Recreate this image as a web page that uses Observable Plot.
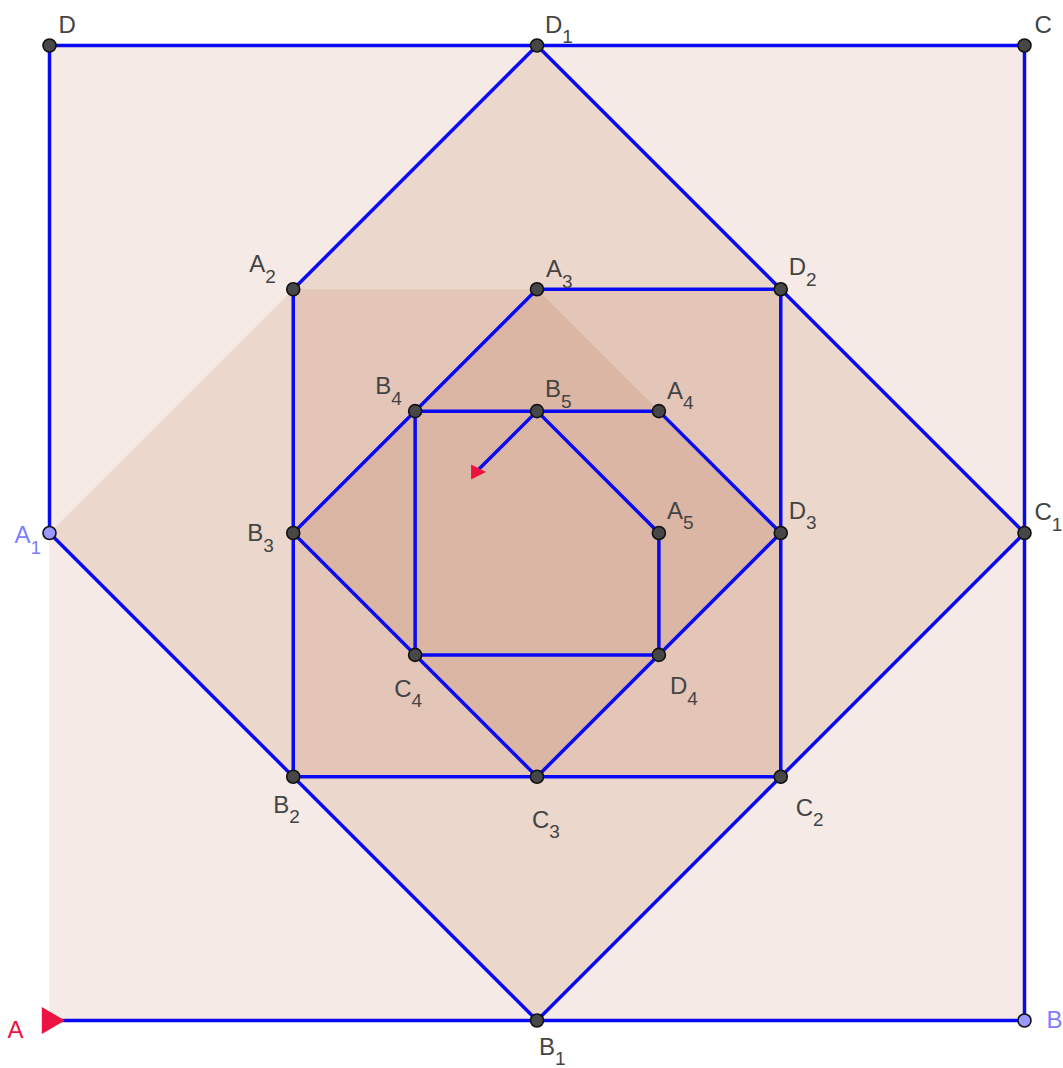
<!DOCTYPE html>
<html>
<head>
<meta charset="utf-8">
<script src="https://cdn.jsdelivr.net/npm/d3@7"></script>
<script src="https://cdn.jsdelivr.net/npm/@observablehq/plot@0.6"></script>
<style>
  html, body { margin: 0; padding: 0; background: #fff; }
  #chart svg { display: block; }
</style>
</head>
<body>
<div id="chart"></div>
<script>
// ---- Data: point names and geometric coordinates (square of side 8) ----
const pointNames = ["A","B","C","D","A1","B1","C1","D1","A2","B2","C2","D2","A3","B3","C3","D3","A4","B4","C4","D4","A5","B5"];
const pointX     = [0, 8, 8, 0, 0, 4, 8, 4, 2, 2, 6, 6, 4, 2, 4, 6, 5, 3, 3, 5, 5, 4];
const pointY     = [0, 0, 8, 8, 4, 0, 4, 8, 6, 2, 2, 6, 6, 4, 2, 4, 5, 5, 3, 3, 4, 5];
// spiral path order (ends with the half-step arrow tip)
const spiralOrder = ["A","B","C","D","A1","B1","C1","D1","A2","B2","C2","D2","A3","B3","C3","D3","A4","B4","C4","D4","A5","B5"];
const arrowTip = {x: 3.5, y: 4.5};
// shaded polygons
const filledPolygons = [
  ["A","B","C","D"],
  ["A1","B1","C1","D1"],
  ["A2","B2","C2","D2"],
  ["A3","B3","C3","D3"]
];
const bluePoints = ["A1","B"];
const startPoint = "A";

// ---- Label layout (pixel offsets of each label from its point) ----
const labelOffset = {
  A:[-42,17], B:[22,7], C:[10,-13], D:[9,-13],
  A1:[-35,10], B1:[2,34], C1:[10,-13], D1:[8,-13],
  A2:[-44,-17], B2:[-20,36], C2:[15,39], D2:[8,-14],
  A3:[9,-12], B3:[-46,8], C3:[-5,51], D3:[8,-14.5],
  A4:[8,-12.5], B4:[-40,-17], C4:[-21,42], D4:[11,39.5],
  A5:[8,-14.5], B5:[8,-14]
};

const pts = pointNames.map((n, i) => ({name: n, x: pointX[i], y: pointY[i], base: n[0], sub: n.slice(1)}));
const byName = Object.fromEntries(pts.map(p => [p.name, p]));
const spiral = spiralOrder.map(n => byName[n]).concat([arrowTip]);
const polyRows = filledPolygons.flatMap((poly, k) => poly.map(n => ({poly: k, x: byName[n].x, y: byName[n].y})));
const darkPts = pts.filter(p => !bluePoints.includes(p.name) && p.name !== startPoint);
const lightPts = pts.filter(p => bluePoints.includes(p.name));
const startPts = pts.filter(p => p.name === startPoint);

const BLUE = "#0a0af2";
const RED = "#ee1242";
const labelColor = p => p.name === startPoint ? RED : bluePoints.includes(p.name) ? "#8080ff" : "#444444";

function triSymbol(h, b) {
  return {draw(ctx) {
    ctx.moveTo(-h / 3, -b / 2);
    ctx.lineTo(2 * h / 3, 0);
    ctx.lineTo(-h / 3, b / 2);
    ctx.closePath();
  }};
}

const chart = Plot.plot({
  width: 1063,
  height: 1068,
  marginLeft: 49, marginRight: 39, marginTop: 45, marginBottom: 48,
  x: {domain: [0, 8], axis: null},
  y: {domain: [0, 8], axis: null},
  color: {type: "identity"},
  style: {background: "white", fontFamily: "'Liberation Sans', Arial, sans-serif", overflow: "visible"},
  marks: [
    Plot.line(polyRows, {x: "x", y: "y", z: "poly", fill: "rgb(153,51,0)", fillOpacity: 0.1, stroke: "none"}),
    Plot.line(spiral, {x: "x", y: "y", stroke: BLUE, strokeWidth: 3.5, strokeLinejoin: "round", strokeLinecap: "butt"}),
    Plot.dot(darkPts, {x: "x", y: "y", r: 6.5, fill: "#474747", stroke: "#111", strokeWidth: 1.6}),
    Plot.dot(lightPts, {x: "x", y: "y", r: 6.5, fill: "#9999ff", stroke: "#111", strokeWidth: 1.6}),
    Plot.dot(startPts, {x: "x", y: "y", symbol: triSymbol(23, 27), fill: RED, stroke: "none"}),
    Plot.dot([arrowTip], {x: "x", y: "y", symbol: triSymbol(15, 15), fill: RED, stroke: "none"}),
    Plot.text(pts, {x: "x", y: "y", text: "name", fill: labelColor, fontSize: 24, textAnchor: "start", lineAnchor: "bottom"})
  ]
});

// turn labels into letter + subscript, and place them next to their points
d3.select(chart).selectAll("text").each(function(i) {
  const p = pts[i];
  if (!p) return;
  const [ox, oy] = labelOffset[p.name];
  const t = d3.select(this);
  t.attr("y", null).attr("dy", null);
  const tr = t.attr("transform") || "";
  t.attr("transform", `${tr} translate(${ox},${oy})`);
  t.text(null);
  t.append("tspan").text(p.base);
  if (p.sub) t.append("tspan").attr("dy", 10.5).attr("font-size", 19).text(p.sub);
});

document.getElementById("chart").appendChild(chart);
</script>
</body>
</html>
